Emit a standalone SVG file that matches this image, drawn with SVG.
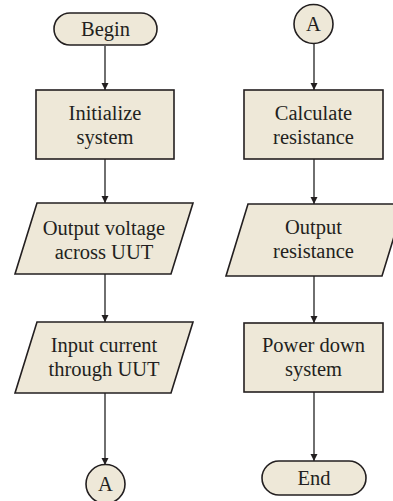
<svg xmlns="http://www.w3.org/2000/svg" width="393" height="501" viewBox="0 0 393 501">
<defs>
<style>
.n{fill:#EEE8D8;stroke:#231F20;stroke-width:1.6}
.t{font-family:"Liberation Serif","Times New Roman",serif;font-size:20.5px;fill:#231F20;text-anchor:middle}
.c{stroke:#333;stroke-width:1.4;fill:none;marker-end:url(#ah)}
</style>
<marker id="ah" viewBox="0 0 10 10" refX="10" refY="5" markerWidth="7" markerHeight="9" markerUnits="userSpaceOnUse" orient="auto">
<path d="M0,0 L10,5 L0,10 z" fill="#231F20"/>
</marker>
</defs>
<rect width="393" height="501" fill="#fff"/>
<g id="connectors">
<line class="c" x1="105" y1="46" x2="105" y2="90"/>
<line class="c" x1="105" y1="159" x2="105" y2="203"/>
<line class="c" x1="105" y1="274" x2="105" y2="322"/>
<line class="c" x1="105" y1="393" x2="105" y2="465"/>
<line class="c" x1="314" y1="44" x2="314" y2="90"/>
<line class="c" x1="314" y1="159" x2="314" y2="204"/>
<line class="c" x1="314" y1="276" x2="314" y2="323"/>
<line class="c" x1="314" y1="392" x2="314" y2="461"/>
</g>
<g id="begin">
<rect class="n" x="54" y="13" width="103" height="32" rx="16"/>
<text class="t" x="105.5" y="36">Begin</text>
</g>
<g id="init">
<rect class="n" x="36" y="90" width="138" height="69"/>
<text class="t" x="105" y="119.5">Initialize</text>
<text class="t" x="105" y="143.5">system</text>
</g>
<g id="outv">
<polygon class="n" points="37,203 193,203 171,274 15,274"/>
<text class="t" x="104" y="234.5">Output voltage</text>
<text class="t" x="104" y="258.5">across UUT</text>
</g>
<g id="inc">
<polygon class="n" points="37,322 193,322 171,393 15,393"/>
<text class="t" x="104" y="351.5">Input current</text>
<text class="t" x="104" y="375.5">through UUT</text>
</g>
<g id="connA1">
<circle class="n" cx="105.5" cy="484" r="19.5"/>
<text class="t" x="105.5" y="491">A</text>
</g>
<g id="connA2">
<circle class="n" cx="313.5" cy="24" r="19.5"/>
<text class="t" x="313.5" y="31">A</text>
</g>
<g id="calc">
<rect class="n" x="244" y="90" width="139" height="69"/>
<text class="t" x="313.5" y="119.5">Calculate</text>
<text class="t" x="313.5" y="143.5">resistance</text>
</g>
<g id="outr">
<polygon class="n" points="248,204 404,204 382,276 226,276"/>
<text class="t" x="313.5" y="233.5">Output</text>
<text class="t" x="313.5" y="257.5">resistance</text>
</g>
<g id="power">
<rect class="n" x="244" y="323" width="139" height="69"/>
<text class="t" x="313.5" y="351.5">Power down</text>
<text class="t" x="313.5" y="375.5">system</text>
</g>
<g id="end">
<rect class="n" x="262" y="461" width="104" height="34" rx="17"/>
<text class="t" x="314" y="485">End</text>
</g>
</svg>
